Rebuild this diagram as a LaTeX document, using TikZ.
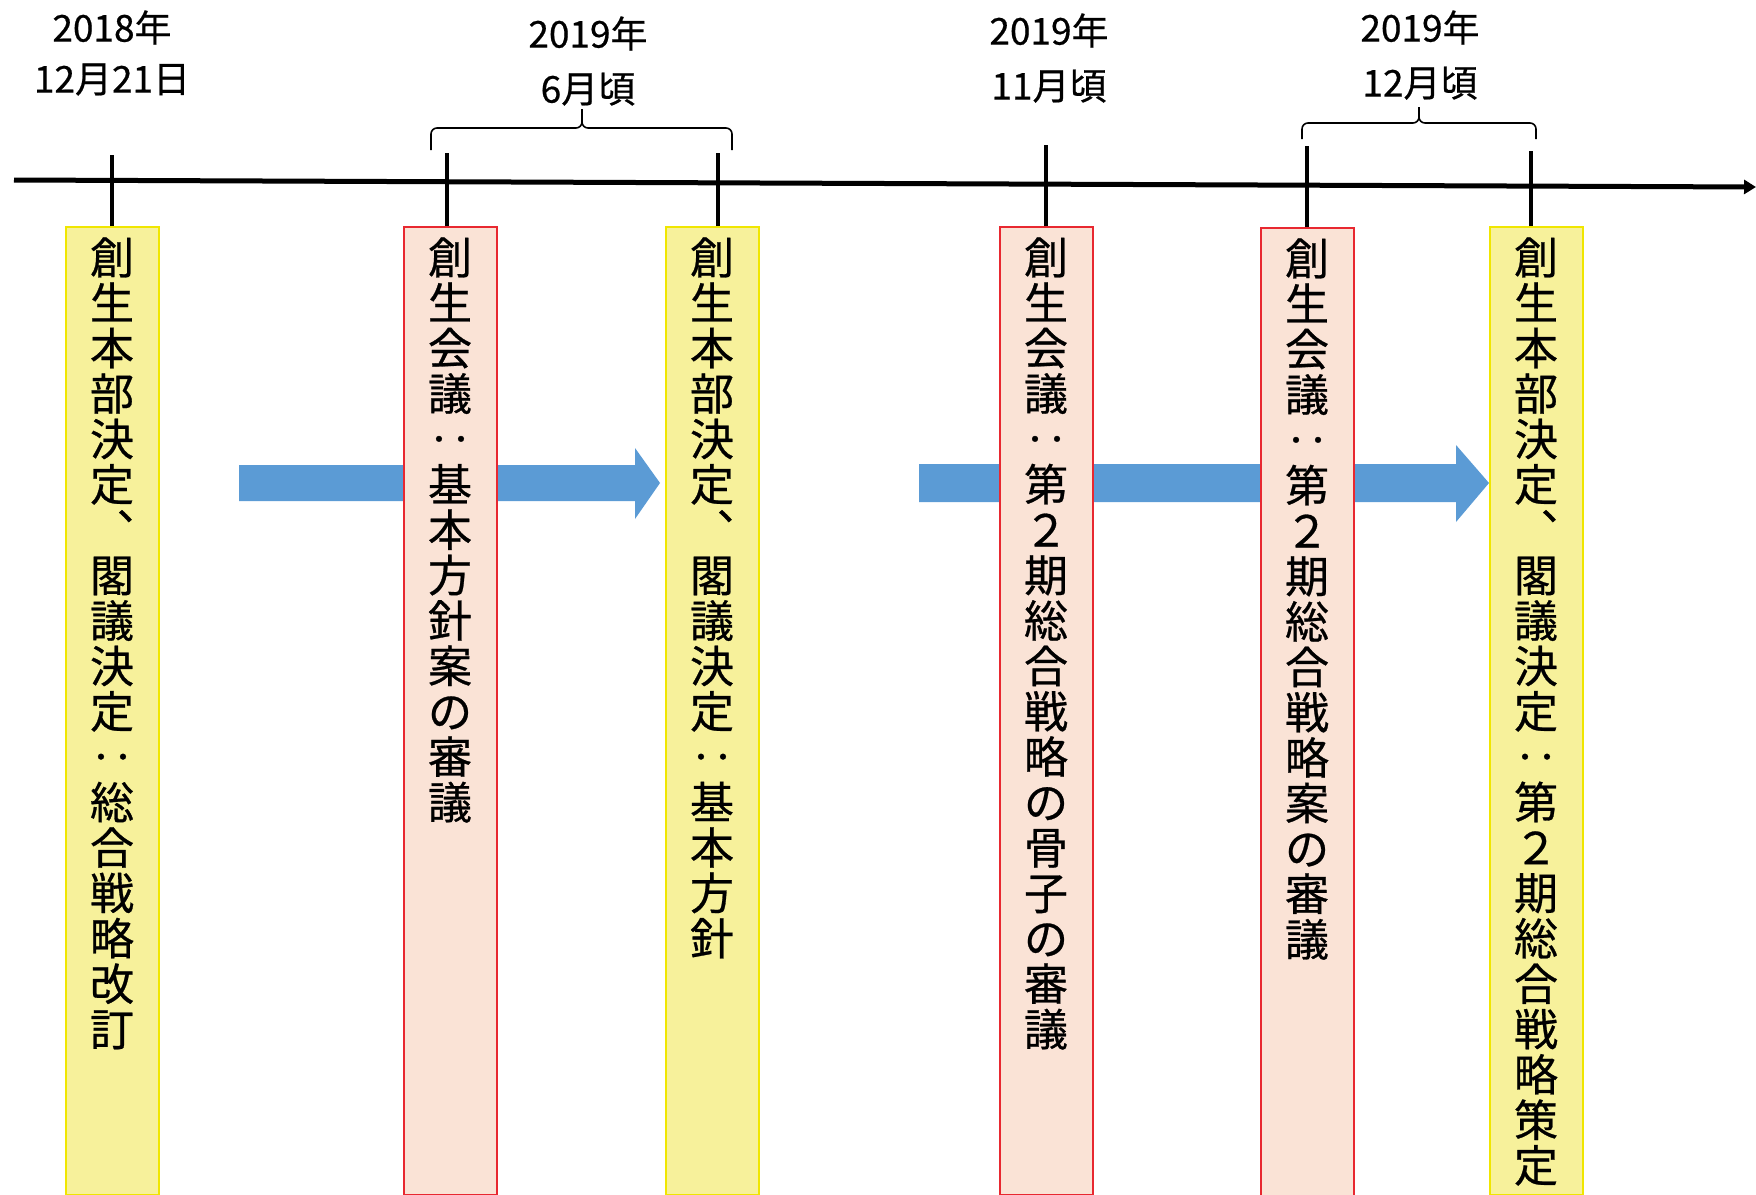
\documentclass[tikz,border=0pt]{standalone}
\usepackage{fontspec}
\setmainfont{Noto Sans CJK JP}[FakeBold=0.6]
\usetikzlibrary{positioning, arrows.meta}
\definecolor{honbufill}{RGB}{247,241,155}
\definecolor{honbuline}{RGB}{240,230,0}
\definecolor{kaigifill}{RGB}{250,227,214}
\definecolor{kaigiline}{RGB}{232,40,48}
\definecolor{flowblue}{RGB}{91,155,213}
\tikzset{
    honbu/.style={draw=honbuline, fill=honbufill, line width=1pt, minimum width=46.5pt, minimum height=484pt, anchor=north, inner sep=0pt},
    kaigi/.style={honbu, draw=kaigiline, fill=kaigifill},
    tate/.style={align=center, inner sep=0pt, font=\fontsize{22}{22.7}\selectfont},
    hizuke/.style={align=center, inner sep=0pt, font=\fontsize{18.5}{#1}\selectfont},
    tick/.style={line width=2.25pt},
    kakko/.style={line width=0.8pt, rounded corners=3pt},
}
\begin{document}
\begin{tikzpicture}[x=0.5pt, y=-0.5pt]
    \useasboundingbox (0,0) rectangle (1756,1194);

    \fill[flowblue] (239,465) -- (635,465) -- (635,448) -- (660,483) -- (635,519) -- (635,501) -- (239,501) -- cycle;
    \fill[flowblue] (919,464) -- (1456,464) -- (1456,445) -- (1489,483) -- (1456,522) -- (1456,502) -- (919,502) -- cycle;

    \draw[line width=2.5pt, -{Triangle[length=6pt, width=7pt]}] (14,180) -- (1756,187);

    \node[honbu] (b1) at (112,226) {};
    \node[kaigi] (b2) at (450,226) {};
    \node[honbu] (b3) at (712,226) {};
    \node[kaigi] (b4) at (1046,226) {};
    \node[kaigi] (b5) at (1307,227) {};
    \node[honbu] (b6) at (1536,226) {};

    \foreach \b/\len/\dx in {b1/71/0, b2/73/-1.5, b3/73/3, b4/81/0, b5/81/0, b6/75/-2.5}
        \draw[tick] ([xshift=\dx pt]\b.north) -- ++(0,-\len);

    \node[tate, below=5.5pt of b1.north] (t1) {創\\生\\本\\部\\決\\定\\︑\\閣\\議\\決\\定\\‥\\総\\合\\戦\\略\\改\\訂};
    \node[tate, below=5.5pt of b2.north] (t2) {創\\生\\会\\議\\‥\\基\\本\\方\\針\\案\\の\\審\\議};
    \node[tate, below=5.5pt of b3.north] (t3) {創\\生\\本\\部\\決\\定\\︑\\閣\\議\\決\\定\\‥\\基\\本\\方\\針};
    \node[tate, below=5.5pt of b4.north] (t4) {創\\生\\会\\議\\‥\\第\\２\\期\\総\\合\\戦\\略\\の\\骨\\子\\の\\審\\議};
    \node[tate, below=5.5pt of b5.north] (t5) {創\\生\\会\\議\\‥\\第\\２\\期\\総\\合\\戦\\略\\案\\の\\審\\議};
    \node[tate, below=5.5pt of b6.north] (t6) {創\\生\\本\\部\\決\\定\\︑\\閣\\議\\決\\定\\‥\\第\\２\\期\\総\\合\\戦\\略\\策\\定};

    \foreach \l/\m/\r/\lo/\hz/\tp in {431/582/732/150/128/109, 1302/1419/1536/139/123/107}
        \draw[kakko] (\l,\lo) -- (\l,\hz) -- (\m,\hz) -- (\m,\tp) (\r,\lo) -- (\r,\hz) -- (\m,\hz) -- (\m,\tp);

    \node[hizuke=25.5pt] (d1) at (112,53) {2018年\\12月21日};
    \node[hizuke=27.5pt] (d2) at (588,61) {2019年\\6月頃};
    \node[hizuke=27.5pt] (d3) at (1049,58) {2019年\\11月頃};
    \node[hizuke=27.5pt] (d4) at (1420,55) {2019年\\12月頃};
\end{tikzpicture}
\end{document}
